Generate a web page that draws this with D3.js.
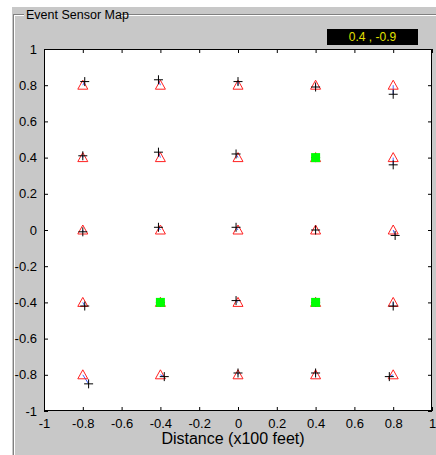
<!DOCTYPE html>
<html>
<head>
<meta charset="utf-8">
<script src="https://cdn.jsdelivr.net/npm/d3@7"></script>
<style>
  html, body { margin: 0; padding: 0; background: #ffffff; }
  svg { display: block; }
  text { font-family: "Liberation Sans", Arial, sans-serif; }
</style>
</head>
<body>
<svg id="chart" width="436" height="455"></svg>
<script>
// ---- data ----
const panelTitle = "Event Sensor Map";
const readout = "0.4 , -0.9";
const xLabel = "Distance (x100 feet)";
const tickValues = [-1, -0.8, -0.6, -0.4, -0.2, 0, 0.2, 0.4, 0.6, 0.8, 1];
const tickLabels = ["-1", "-0.8", "-0.6", "-0.4", "-0.2", "0", "0.2", "0.4", "0.6", "0.8", "1"];

// sensor grid (true positions), row-major from top row
const sensorX = [-0.8, -0.4, 0, 0.4, 0.8, -0.8, -0.4, 0, 0.4, 0.8, -0.8, -0.4, 0, 0.4, 0.8, -0.8, -0.4, 0, 0.4, 0.8, -0.8, -0.4, 0, 0.4, 0.8];
const sensorY = [0.8, 0.8, 0.8, 0.8, 0.8, 0.4, 0.4, 0.4, 0.4, 0.4, 0, 0, 0, 0, 0, -0.4, -0.4, -0.4, -0.4, -0.4, -0.8, -0.8, -0.8, -0.8, -0.8];
// estimated sensor positions (+ markers)
const estX = [-0.79, -0.41, 0.00, 0.40, 0.80, -0.80, -0.41, -0.01, 0.40, 0.80, -0.80, -0.41, -0.01, 0.40, 0.81, -0.79, -0.40, -0.01, 0.40, 0.80, -0.77, -0.38, 0.00, 0.40, 0.78];
const estY = [0.82, 0.83, 0.82, 0.79, 0.75, 0.41, 0.43, 0.42, 0.40, 0.36, -0.01, 0.015, 0.015, 0.00, -0.03, -0.42, -0.40, -0.39, -0.40, -0.42, -0.85, -0.81, -0.79, -0.79, -0.81];
// sensors that detected an event (green squares)
const eventX = [0.4, -0.4, 0.4];
const eventY = [0.4, -0.4, -0.4];

// ---- drawing ----
const svg = d3.select("#chart");
const gray = "#c8c8c8";

// panel background
svg.append("rect").attr("x", 12).attr("y", 7).attr("width", 424).attr("height", 448).attr("fill", gray);

// etched panel border (left and top)
const border = svg.append("g");
border.append("line").attr("x1", 13.5).attr("y1", 14).attr("x2", 13.5).attr("y2", 455).attr("stroke", "#808080");
border.append("line").attr("x1", 14.5).attr("y1", 15).attr("x2", 14.5).attr("y2", 455).attr("stroke", "#ffffff");
border.append("line").attr("x1", 13).attr("y1", 14.5).attr("x2", 24).attr("y2", 14.5).attr("stroke", "#808080");
border.append("line").attr("x1", 14).attr("y1", 15.5).attr("x2", 24).attr("y2", 15.5).attr("stroke", "#ffffff");
border.append("line").attr("x1", 121).attr("y1", 14.5).attr("x2", 436).attr("y2", 14.5).attr("stroke", "#808080");
border.append("line").attr("x1", 121).attr("y1", 15.5).attr("x2", 436).attr("y2", 15.5).attr("stroke", "#ffffff");

svg.append("text").attr("x", 26).attr("y", 19).attr("font-size", 12.5).attr("fill", "#000")
  .text(panelTitle);

// readout box
svg.append("rect").attr("x", 327).attr("y", 29).attr("width", 91).attr("height", 16).attr("fill", "#000");
svg.append("text").attr("x", 372.5).attr("y", 41).attr("text-anchor", "middle")
  .attr("font-size", 12).attr("fill", "#e0e000").text(readout);

// axes
const L = 44, R = 432, T = 49, B = 411;
const x = d3.scaleLinear().domain([-1, 1]).range([L, R]);
const y = d3.scaleLinear().domain([-1, 1]).range([B, T]);

svg.append("rect").attr("x", L).attr("y", T).attr("width", R - L).attr("height", B - T).attr("fill", "#fff");

const fmt = v => tickLabels[tickValues.indexOf(v)];
const tickLen = 4;

const gx = svg.append("g").attr("transform", `translate(0,${B})`)
  .call(d3.axisBottom(x).tickValues(tickValues).tickFormat(fmt).tickSizeInner(-tickLen).tickSizeOuter(0).tickPadding(8));
const gxTop = svg.append("g").attr("transform", `translate(0,${T})`)
  .call(d3.axisTop(x).tickValues(tickValues).tickFormat("").tickSizeInner(-tickLen).tickSizeOuter(0));
const gy = svg.append("g").attr("transform", `translate(${L},0)`)
  .call(d3.axisLeft(y).tickValues(tickValues).tickFormat(fmt).tickSizeInner(-tickLen).tickSizeOuter(0).tickPadding(7));
const gyRight = svg.append("g").attr("transform", `translate(${R},0)`)
  .call(d3.axisRight(y).tickValues(tickValues).tickFormat("").tickSizeInner(-tickLen).tickSizeOuter(0));

[gx, gxTop, gy, gyRight].forEach(g => {
  g.select(".domain").remove();
  g.selectAll("line").attr("stroke", "#000");
  g.selectAll("text").attr("font-size", 13).attr("fill", "#000")
    .attr("font-family", "'Liberation Sans', Arial, sans-serif");
});

svg.append("rect").attr("x", L + 0.5).attr("y", T + 0.5).attr("width", R - L - 1).attr("height", B - T - 1)
  .attr("fill", "none").attr("stroke", "#000");

svg.append("text").attr("x", (L + R) / 2 - 5).attr("y", 444).attr("text-anchor", "middle")
  .attr("font-size", 16).attr("fill", "#000").text(xLabel);

// markers
const idx = d3.range(sensorX.length);
const plot = svg.append("g");

// error vectors (true -> estimated)
plot.selectAll("line.err").data(idx).join("line").attr("class", "err")
  .attr("x1", i => x(sensorX[i])).attr("y1", i => y(sensorY[i]))
  .attr("x2", i => x(estX[i])).attr("y2", i => y(estY[i]))
  .attr("stroke", "#4060ff").attr("stroke-width", 1);

// triangles
plot.selectAll("path.tri").data(idx).join("path").attr("class", "tri")
  .attr("d", i => {
    const cx = x(sensorX[i]), cy = y(sensorY[i]);
    return `M${cx},${cy - 5}L${cx + 5},${cy + 4}L${cx - 5},${cy + 4}Z`;
  })
  .attr("fill", "none").attr("stroke", "#ff2020").attr("stroke-width", 1);

// plus markers
plot.selectAll("path.plus").data(idx).join("path").attr("class", "plus")
  .attr("d", i => {
    const cx = x(estX[i]), cy = y(estY[i]);
    return `M${cx - 4.5},${cy}H${cx + 4.5}M${cx},${cy - 4.5}V${cy + 4.5}`;
  })
  .attr("fill", "none").attr("stroke", "#000").attr("stroke-width", 1);

// event squares
plot.selectAll("rect.ev").data(d3.range(eventX.length)).join("rect").attr("class", "ev")
  .attr("x", i => x(eventX[i]) - 4.5).attr("y", i => y(eventY[i]) - 4.5)
  .attr("width", 9).attr("height", 9).attr("fill", "#00ff00");
</script>
</body>
</html>
